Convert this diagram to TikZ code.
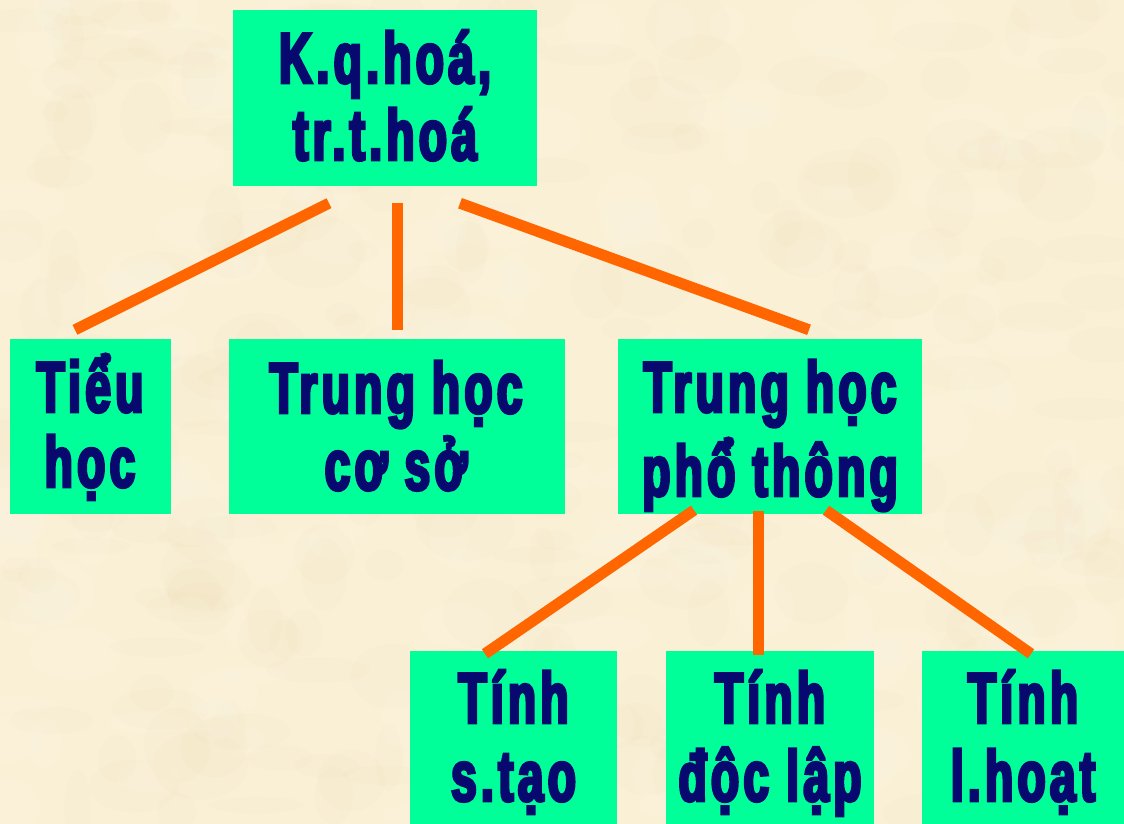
\documentclass[tikz,border=0pt]{standalone}
\usepackage{fontspec}
\usetikzlibrary{calc}
\newfontfamily\boxfont{Liberation Sans Bold}[FakeStretch=0.64,FakeBold=4,LetterSpace=6]

\definecolor{paper}{HTML}{FAF0D6}
\definecolor{paperdark}{HTML}{EADAAE}
\definecolor{paperlight}{HTML}{FFF9EC}
\definecolor{boxgreen}{HTML}{00FF99}
\definecolor{ink}{HTML}{08096F}
\definecolor{linkorange}{HTML}{FF6600}

\tikzset{
  box/.style={rectangle, fill=boxgreen, draw=none, inner sep=0pt},
  lbl/.style={anchor=base, inner sep=0pt, text=ink,
    font=\boxfont\fontsize{72}{77}\selectfont},
  link/.style={draw=linkorange, line width=11pt, line cap=butt},
  speck/.style={opacity=0.07},
}

\begin{document}
\begin{tikzpicture}[x=1pt, y=-1pt]
  % page and faintly mottled parchment background
  \useasboundingbox (0,0) rectangle (1124,824);
  \fill[paper] (0,0) rectangle (1124,824);
  \begin{scope}
    \clip (0,0) rectangle (1124,824);
    \pgfmathsetseed{4242}
    \foreach \i in {1,...,260}{
      \pgfmathsetmacro{\px}{rnd*1124}
      \pgfmathsetmacro{\py}{rnd*824}
      \pgfmathsetmacro{\rx}{12+rnd*40}
      \pgfmathsetmacro{\ry}{8+rnd*30}
      \fill[paperdark, speck] (\px,\py) ellipse [x radius=\rx pt, y radius=\ry pt];
    }
    \foreach \i in {1,...,200}{
      \pgfmathsetmacro{\px}{rnd*1124}
      \pgfmathsetmacro{\py}{rnd*824}
      \pgfmathsetmacro{\rx}{12+rnd*35}
      \pgfmathsetmacro{\ry}{8+rnd*25}
      \fill[paperlight, opacity=0.12] (\px,\py) ellipse [x radius=\rx pt, y radius=\ry pt];
    }
  \end{scope}

  % boxes
  \node[box, minimum width=304pt, minimum height=176pt] (top)    at (385,98)    {};
  \node[box, minimum width=161pt, minimum height=175pt] (tieu)   at (90.5,426.5) {};
  \node[box, minimum width=336pt, minimum height=175pt] (thcs)   at (397,426.5) {};
  \node[box, minimum width=304pt, minimum height=175pt] (thpt)   at (770,426.5) {};
  \node[box, minimum width=207pt, minimum height=175pt] (stao)   at (513.5,738.5) {};
  \node[box, minimum width=208pt, minimum height=175pt] (doclap) at (770,738.5) {};
  \node[box, minimum width=202pt, minimum height=175pt] (lhoat)  at (1023,738.5) {};

  % labels (anchored at the baseline of their first line)
  \node[lbl] (topT)    at (385,83)  {\parbox[t]{300pt}{\centering K.q.hoá,\\tr.t.hoá}};
  \node[lbl] (tieuT)   at (90,412)  {\parbox[t]{160pt}{\centering Tiểu\\[-2pt]học}};
  \node[lbl] (thcsT)   at (396,413) {\parbox[t]{330pt}{\centering Trung học\\cơ sở}};
  \node[lbl] (thptT)   at (770,412) {\parbox[t]{300pt}{\centering Trung học\\[7pt]phổ thông}};
  \node[lbl] (staoT)   at (513.5,723) {\parbox[t]{205pt}{\centering Tính\\[1pt]s.tạo}};
  \node[lbl] (doclapT) at (770,723) {\parbox[t]{205pt}{\centering Tính\\[1pt]độc lập}};
  \node[lbl] (lhoatT)  at (1023,723) {\parbox[t]{200pt}{\centering Tính\\[1pt]l.hoạt}};

  % connectors
  \draw[link] ($(top.south)+(-56,17)$) -- ($(tieu.north)+(-15.5,-9)$);
  \draw[link] ($(top.south)+(12,17)$)  -- ($(thcs.north)+(0,-9)$);
  \draw[link] ($(top.south)+(75,17)$)  -- ($(thpt.north)+(39,-9)$);
  \draw[link] ($(thpt.south)+(-76,-4)$) -- ($(stao.north)+(-28.5,3)$);
  \draw[link] ($(thpt.south)+(-12,-3)$) -- ($(doclap.north)+(-12,4)$);
  \draw[link] ($(thpt.south)+(56,-4)$)  -- ($(lhoat.north)+(8,3)$);
\end{tikzpicture}
\end{document}
